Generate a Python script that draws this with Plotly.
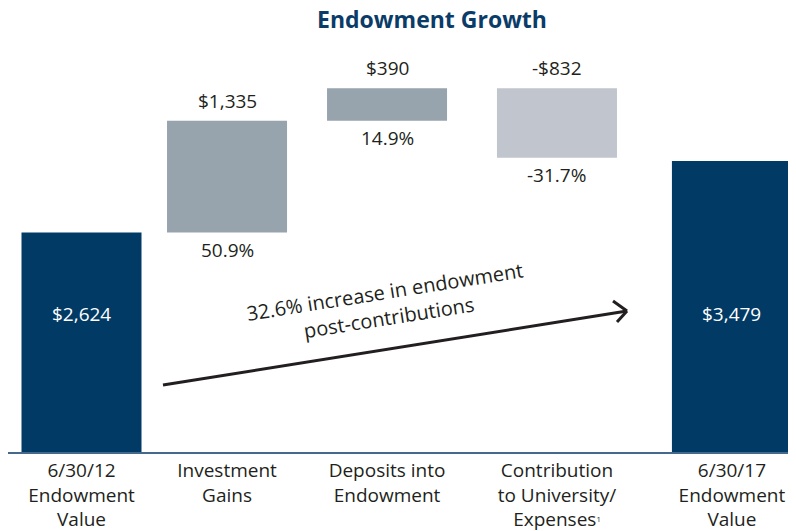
import plotly.graph_objects as go

# data (values in $ millions)
categories = ["6/30/12<br>Endowment<br>Value", "Investment<br>Gains",
              "Deposits into<br>Endowment",
              "Contribution<br>to University/<br>Expenses<span style='font-size:11px'><sup>1</sup></span>",
              "6/30/17<br>Endowment<br>Value"]
measures = ["absolute", "relative", "relative", "relative", "absolute"]
values = [2624, 1335, 390, -832, 3479]
value_labels = ["$2,624", "$1,335", "$390", "-$832", "$3,479"]
pct_labels = ["", "50.9%", "14.9%", "-31.7%", ""]

# slot layout along x (the original spaces the columns unevenly)
slots = [0, 0.895, 1.879, 2.924, 4]

NAVY = "#023a66"
GREY = "#97a3ad"
LIGHT = "#c1c6ce"
TXT = "#231f20"
FONT = "Open Sans"

# page body has an 8px margin, so the figure is sized to fit inside the window
W, H = 788, 523
MT, MB = 45, 79
PH = H - MT - MB

fig = go.Figure(go.Waterfall(
    x=slots, y=values, measure=measures,
    width=0.738,
    increasing=dict(marker=dict(color=GREY)),
    decreasing=dict(marker=dict(color=LIGHT)),
    totals=dict(marker=dict(color=NAVY)),
    connector=dict(visible=False),
    hoverinfo="skip",
))

# work out bar extents for the labels
level = 0
ann = []
for i, (m, v) in enumerate(zip(measures, values)):
    if m == "absolute":
        # totals: label inside, white
        ann.append(dict(x=slots[i], y=1650, text=value_labels[i], showarrow=False,
                        font=dict(color="white", size=19, family=FONT)))
        level = v
    else:
        start, end = level, level + v
        top, bot = max(start, end), min(start, end)
        ann.append(dict(x=slots[i], y=top, text=value_labels[i], showarrow=False,
                        yanchor="bottom", yshift=5, font=dict(color=TXT, size=19, family=FONT)))
        ann.append(dict(x=slots[i], y=bot, text=pct_labels[i], showarrow=False,
                        yanchor="top", yshift=-2, font=dict(color=TXT, size=19, family=FONT)))
        level = end


def px(x, y):
    # reference window pixels -> paper coords
    return (x - 8) / W, (452 - y) / PH


# arrow text
tx, ty = px(387, 304)
ann.append(dict(xref="paper", yref="paper", x=tx, y=ty,
                text="32.6% increase in endowment<br>post-contributions", showarrow=False,
                textangle=-9, font=dict(color=TXT, size=20, family=FONT)))

shapes = []
for (x0, y0), (x1, y1) in [((163, 385), (627, 311)), ((613, 301), (627, 311)), ((617, 322), (627, 311))]:
    a0, b0 = px(x0, y0)
    a1, b1 = px(x1, y1)
    shapes.append(dict(type="line", xref="paper", yref="paper", x0=a0, y0=b0, x1=a1, y1=b1,
                       line=dict(color=TXT, width=3)))

fig.update_layout(
    width=W, height=H,
    margin=dict(l=0, r=0, t=MT, b=MB),
    plot_bgcolor="white", paper_bgcolor="white",
    showlegend=False,
    title=dict(text="<b>Endowment Growth</b>", x=(432 - 8) / W, xanchor="center",
               y=1 - 12 / H, yanchor="middle",
               font=dict(color="#0b3c68", size=23, family=FONT)),
    annotations=ann,
    shapes=shapes,
    font=dict(family=FONT, color=TXT),
)
fig.update_xaxes(range=[-0.452, 4.394], tickmode="array", tickvals=slots, ticktext=categories,
                 showline=True, linecolor="#45698c", linewidth=2, zeroline=False,
                 ticks="", tickfont=dict(size=19, color=TXT, family=FONT), showgrid=False)
fig.update_yaxes(range=[0, 4770], visible=False, showgrid=False)

fig.write_html("out.html")
